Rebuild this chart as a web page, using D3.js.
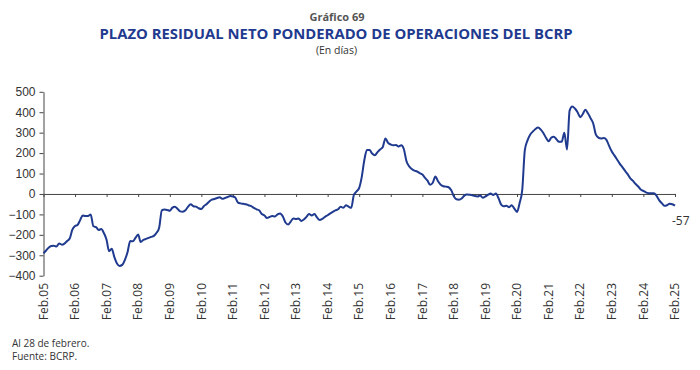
<!DOCTYPE html>
<html>
<head>
<meta charset="utf-8">
<script src="https://cdn.jsdelivr.net/npm/d3@7"></script>
<style>
  body { margin: 0; background: #fff; }
  svg { font-family: "Open Sans", "Noto Sans", sans-serif; }
</style>
</head>
<body>
<svg id="grafico" width="700" height="370"></svg>
<script>
// plazo residual neto ponderado (dias), datos mensuales desde feb.2005
var inicio = new Date(2005, 1, 1);
var fin = new Date(2025, 1, 1);

var plazo2005_2009 = [-290, -278, -263, -255, -253, -257, -242, -248, -243, -230, -218, -175,
    -157, -152, -128, -105, -108, -108, -101, -158, -162, -176, -172, -192,
    -225, -280, -268, -308, -340, -352, -347, -322, -285, -230, -232, -215,
    -198, -235, -225, -220, -215, -210, -205, -190, -165, -80, -76, -78];
var plazo2009_2013 = [-82, -68, -62, -72, -85, -87, -80, -62, -50, -60, -62, -70,
    -74, -60, -50, -38, -28, -25, -20, -16, -24, -20, -15, -10,
    -12, -18, -42, -46, -48, -50, -55, -60, -68, -75, -80, -98,
    -105, -118, -112, -108, -110, -100, -95, -110, -140, -150, -135, -120];
var plazo2013_2017 = [-122, -120, -132, -125, -112, -98, -105, -98, -115, -128, -122, -112,
    -104, -96, -88, -80, -75, -62, -68, -55, -62, -68, -5, 12,
    30, 80, 165, 215, 215, 198, 190, 205, 218, 230, 272, 250,
    242, 238, 240, 232, 238, 220, 160, 135, 122, 114, 110, 102];
var plazo2017_2021 = [95, 80, 65, 45, 55, 85, 62, 45, 38, 36, 33, 18,
    -12, -26, -28, -22, -8, -3, -4, -6, -10, -12, -8, -18,
    -12, -5, 2, -5, 2, -20, -52, -60, -58, -65, -55, -72,
    -88, -45, 20, 215, 262, 290, 305, 318, 325, 315, 298, 275];
var plazo2021_2025 = [258, 275, 280, 268, 255, 255, 300, 218, 408, 428, 418, 400,
    376, 390, 412, 395, 370, 345, 290, 275, 272, 274, 265, 235,
    208, 190, 170, 150, 133, 115, 98, 78, 65, 50, 38, 22,
    15, 8, 4, 3, 3, -8, -30, -45, -58, -55, -48, -50,
    -57];

var etiquetasX = ["Feb.05", "Feb.06", "Feb.07", "Feb.08", "Feb.09", "Feb.10", "Feb.11",
    "Feb.12", "Feb.13", "Feb.14", "Feb.15", "Feb.16", "Feb.17", "Feb.18", "Feb.19",
    "Feb.20", "Feb.21", "Feb.22", "Feb.23", "Feb.24", "Feb.25"];
var ticksY = [-400, -300, -200, -100, 0, 100, 200, 300, 400, 500];

var plazo = plazo2005_2009.concat(plazo2009_2013, plazo2013_2017, plazo2017_2021, plazo2021_2025);
var datos = plazo.map(function(v, i) {
    return {fecha: new Date(2005, 1 + i, 1), valor: v};
});
var fechasTicks = etiquetasX.map(function(e, i) { return new Date(2005 + i, 1, 1); });

var azul = "#1f3a8f";
var gris = "#333";
var svg = d3.select("#grafico");

var xScale = d3.scaleTime().domain([inicio, fin]).range([43.5, 675]);
var yScale = d3.scaleLinear().domain([-400, 500]).range([275.7, 91.8]);

// titulos
svg.append("text")
    .attr("x", 337).attr("y", 20.5)
    .attr("text-anchor", "middle")
    .style("font-size", "11px").style("font-weight", "bold").style("fill", "#555")
    .text("Gráfico 69");
svg.append("text")
    .attr("x", 336).attr("y", 39)
    .attr("text-anchor", "middle")
    .attr("textLength", 473).attr("lengthAdjust", "spacingAndGlyphs")
    .style("font-size", "14.5px").style("font-weight", "bold").style("fill", azul)
    .text("PLAZO RESIDUAL NETO PONDERADO DE OPERACIONES DEL BCRP");
svg.append("text")
    .attr("x", 336.5).attr("y", 54)
    .attr("text-anchor", "middle")
    .style("font-size", "10.5px").style("fill", gris)
    .text("(En días)");

// eje y
var yAxis = g => g
    .attr("transform", "translate(43.5,0)")
    .call(d3.axisLeft(yScale).tickValues(ticksY).tickSize(4).tickSizeOuter(0).tickPadding(4));
var gy = svg.append("g").call(yAxis);
gy.selectAll("text").style("font-size", "12px").style("fill", gris).style("font-family", "inherit");
gy.selectAll("line, path").attr("stroke", "#444");

// eje x sobre el cero
var xAxis = g => g
    .attr("transform", `translate(0,${yScale(0)})`)
    .call(d3.axisBottom(xScale).tickValues(fechasTicks).tickSize(3).tickSizeOuter(0).tickFormat(""));
var gx = svg.append("g").call(xAxis);
gx.selectAll("line, path").attr("stroke", "#444");

// etiquetas del eje x abajo
svg.append("g").selectAll("text")
    .data(fechasTicks)
    .enter()
    .append("text")
    .attr("transform", d => `translate(${xScale(d)},283) rotate(-90)`)
    .attr("dy", "0.35em")
    .attr("text-anchor", "end")
    .style("font-size", "12px").style("fill", gris)
    .text((d, i) => etiquetasX[i]);

// linea
var linea = d3.line()
    .x(d => xScale(d.fecha))
    .y(d => yScale(d.valor))
    .curve(d3.curveMonotoneX);
svg.append("path")
    .datum(datos)
    .attr("d", linea)
    .attr("fill", "none")
    .attr("stroke", azul)
    .attr("stroke-width", 2)
    .attr("stroke-linejoin", "round");

// ultimo valor
var ultimo = datos[datos.length - 1];
svg.append("text")
    .attr("x", xScale(ultimo.fecha) - 3)
    .attr("y", yScale(ultimo.valor) + 19)
    .style("font-size", "12px").style("fill", gris)
    .text(ultimo.valor);

// notas
svg.append("text")
    .attr("x", 12).attr("y", 347)
    .style("font-size", "10px").style("fill", gris)
    .text("Al 28 de febrero.");
svg.append("text")
    .attr("x", 12).attr("y", 360)
    .style("font-size", "10px").style("fill", gris)
    .text("Fuente: BCRP.");
</script>
</body>
</html>
